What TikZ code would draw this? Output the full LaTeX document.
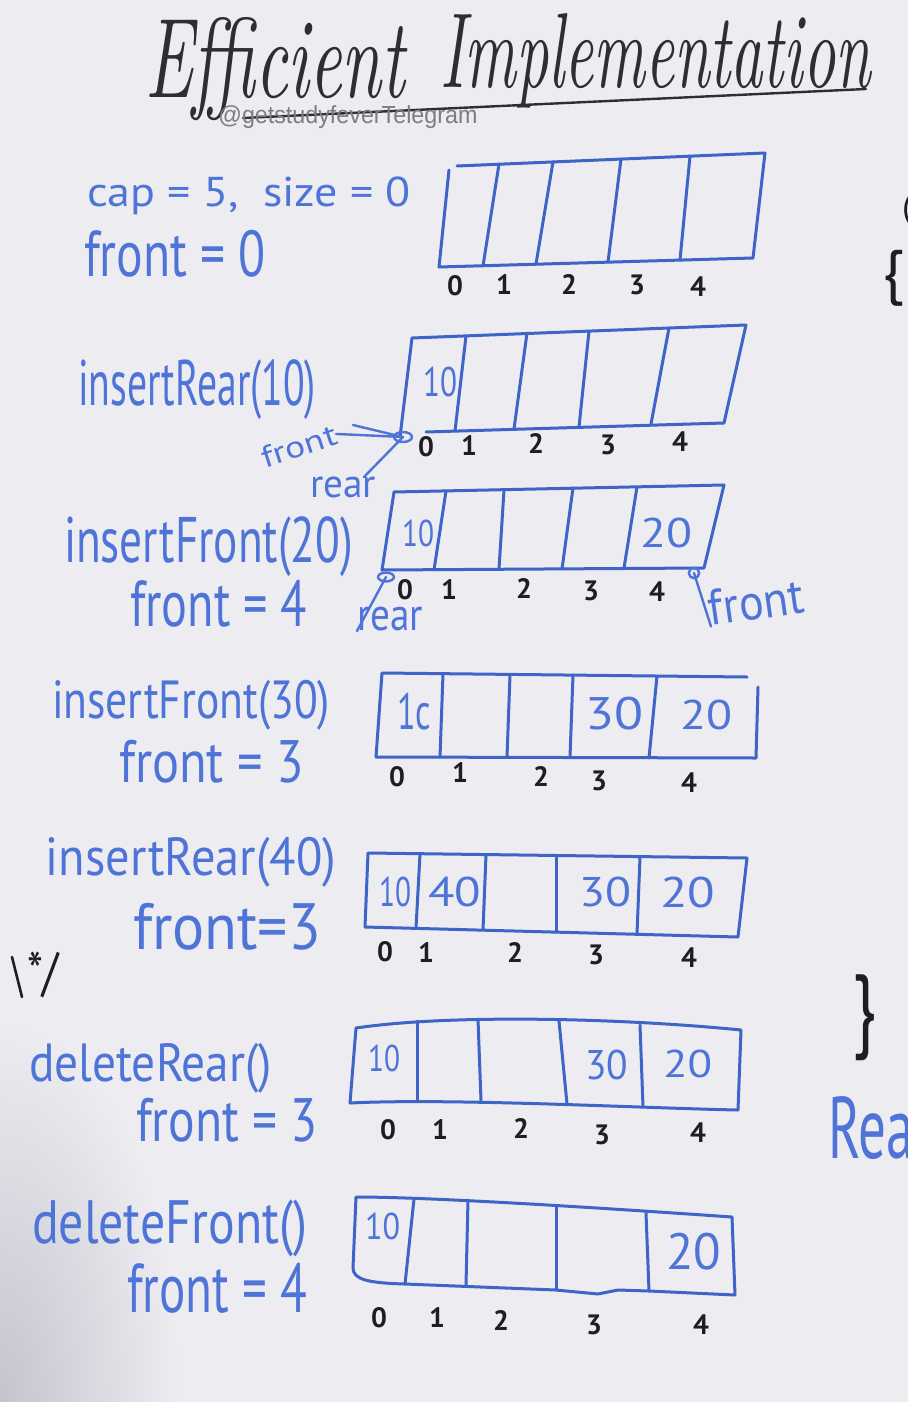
\documentclass[tikz,border=0pt]{standalone}
\usepackage{fontspec}
\newfontfamily\handfont{PT Sans}
\newfontfamily\wmfont{Liberation Sans}
\definecolor{bgc}{RGB}{236,236,241}
\definecolor{shadowc}{RGB}{196,196,206}
\definecolor{hand}{RGB}{78,116,216}
\definecolor{boxblue}{RGB}{62,100,200}
\definecolor{inkblack}{RGB}{30,30,34}
\definecolor{titleink}{RGB}{45,45,50}
\definecolor{wmgray}{RGB}{125,125,132}
\newlength\unitpx
\setlength\unitpx{0.5pt}
\newcommand\fitto[3]{\resizebox*{#1\unitpx}{#2\unitpx}{#3}}
\newcommand\fith[3]{\resizebox{#1\unitpx}{#2\unitpx}{#3}}
\tikzset{
  arr/.style={draw=boxblue, line width=1.5pt, line join=round, line cap=round},
  ink/.style={draw=hand, line width=1.2pt, line cap=round, line join=round},
  blkline/.style={draw=inkblack, line width=1.3pt, line cap=round},
  lbl/.style={inner sep=0pt, outer sep=0pt, text=hand, font=\handfont, anchor=north west},
  sm/.style={inner sep=0pt, outer sep=0pt, text=hand, font=\handfont},
  idx/.style={inner sep=0pt, text=inkblack, font=\handfont\bfseries\fontsize{14}{16}\selectfont},
  blk/.style={inner sep=0pt, outer sep=0pt, text=inkblack, font=\handfont},
  ttl/.style={inner sep=0pt, outer sep=0pt, text=titleink, font=\itshape, anchor=north west},
}
\begin{document}
\begin{tikzpicture}[x=0.5pt,y=-0.5pt]
\useasboundingbox (0,0) rectangle (908,1402);
\fill[bgc] (0,0) rectangle (908,1402);
\shade[inner color=shadowc, outer color=bgc] (0,1402) ellipse [x radius=90pt, y radius=190pt];

% ---------- title ----------
\node[ttl] (t1) at (145,17) {\fith{260}{80}{Efficient}};
\node[ttl] (t2) at (440,13) {\fith{431}{74}{Implementation}};
\draw[draw=titleink, line width=1.2pt, line cap=round] (243,118) -- (866,89);
\node[inner sep=0pt, anchor=north west, text=wmgray, font=\wmfont] (wm) at (218,105) {\fitto{259}{23}{@getstudyfeverTelegram}};

% ---------- edge fragments ----------
\node[blk] (lp) at (907,210) {\fitto{10}{32}{(}};
\node[blk] (lb) at (893,278) {\fitto{22}{56}{\{}};
\node[blk] (rb) at (864,1018) {\fitto{24}{86}{\}}};
\node[lbl, anchor=north west] (rear) at (828,1097) {\fitto{104}{63}{Rear}};
\draw[blkline] (12,957) -- (22,997);
\node[blk, anchor=north west] (cm) at (27,952) {\fitto{32}{46}{*/}};

% ---------- row 1 ----------
\node[lbl] (cap) at (87,177) {\fitto{324}{38}{cap = 5,\ \ size = 0}};
\node[lbl] (fr1) at (84,230) {\fitto{182}{47}{front = 0}};
\draw[arr] (449,170) -- (439,267) -- (753,258) -- (765,153) -- (457,166);
\foreach \xa/\ya/\xb/\yb in {499/164/483/266, 553/162/536/264, 621/159/608/262, 690/156/680/260}
  \draw[arr] (\xa,\ya) -- (\xb,\yb);
\foreach \n/\x/\y in {0/455/286, 1/504/285, 2/569/285, 3/637/285, 4/698/287}
  \node[idx] (i1-\n) at (\x,\y) {\n};

% ---------- row 2 ----------
\node[lbl] (op2) at (78,360) {\fitto{238}{60}{insertRear(10)}};
\draw[arr] (412,338) -- (746,325) -- (724,423) -- (426,432);
\draw[arr] (412,338) -- (400,437);
\foreach \xa/\ya/\xb/\yb in {466/336/455/431, 527/333/514/429, 589/331/579/427, 669/328/651/424}
  \draw[arr] (\xa,\ya) -- (\xb,\yb);
\node[lbl] (v2a) at (423,367) {\fitto{34}{30}{10}};
\foreach \n/\x/\y in {0/426/447, 1/469/446, 2/536/443, 3/608/445, 4/680/442}
  \node[idx] (i2-\n) at (\x,\y) {\n};
\coordinate (c2) at (403,437);
\draw[ink] (c2) ellipse [x radius=4.5pt, y radius=2.5pt];
\node[sm, rotate=18] (f2) at (299,446) {\fitto{78}{22}{front}};
\draw[ink] (f2.east) -- (c2);
\draw[ink] (c2) -- ++(-50,-12);
\node[sm, anchor=north west] (r2) at (310,477) {\fitto{66}{21}{rear}};
\draw[ink] ([xshift=-6pt]r2.north east) -- (c2);

% ---------- row 3 ----------
\node[lbl] (op3) at (64,517) {\fitto{289}{60}{insertFront(20)}};
\node[lbl] (fr3) at (130,580) {\fitto{177}{47}{front = 4}};
\draw[arr] (394,492) -- (724,485) -- (704,568) -- (382,570) -- cycle;
\foreach \xa/\ya/\xb/\yb in {446/491/434/570, 504/490/499/569, 573/488/562/569, 637/487/624/568}
  \draw[arr] (\xa,\ya) -- (\xb,\yb);
\node[lbl] (v3a) at (402,520) {\fitto{32}{27}{10}};
\node[lbl] (v3e) at (640,518) {\fitto{52}{30}{20}};
\foreach \n/\x/\y in {0/405/590, 1/449/590, 2/524/588, 3/591/591, 4/657/592}
  \node[idx] (i3-\n) at (\x,\y) {\n};
\coordinate (c3l) at (386,577);
\draw[ink] (c3l) ellipse [x radius=4pt, y radius=2.2pt];
\node[sm, anchor=north west] (r3) at (357,607) {\fitto{66}{24}{rear}};
\draw[ink] (c3l) -- (r3.south west);
\coordinate (c3r) at (694,573);
\draw[ink] (c3r) circle [radius=2.6pt];
\node[sm, rotate=8] (f3) at (756,602) {\fitto{96}{36}{front}};
\draw[ink] (c3r) -- (f3.south west);

% ---------- row 4 ----------
\node[lbl] (op4) at (52,680) {\fitto{278}{50}{insertFront(30)}};
\node[lbl] (fr4) at (119,740) {\fitto{185}{43}{front = 3}};
\draw[arr] (376,757) -- (382,673) -- (747,677);
\draw[arr] (758,687) -- (756,758) -- (376,757);
\foreach \xa/\ya/\xb/\yb in {443/674/440/757, 510/675/507/757, 573/675/570/757, 657/676/649/758}
  \draw[arr] (\xa,\ya) -- (\xb,\yb);
\node[lbl] (v4a) at (397,693) {\fitto{34}{37}{1c}};
\node[lbl] (v4d) at (585,697) {\fitto{58}{33}{30}};
\node[lbl] (v4e) at (680,700) {\fitto{52}{30}{20}};
\foreach \n/\x/\y in {0/397/777, 1/460/773, 2/541/776, 3/599/781, 4/689/783}
  \node[idx] (i4-\n) at (\x,\y) {\n};

% ---------- row 5 ----------
\node[lbl] (op5) at (46,837) {\fitto{290}{50}{insertRear(40)}};
\node[lbl] (fr5) at (133,903) {\fitto{188}{47}{front=3}};
\draw[arr] (368,853) -- (747,858) -- (738,937) -- (365,927) -- cycle;
\foreach \xa/\ya/\xb/\yb in {420/854/416/928, 486/855/483/930, 556/856/556/932, 640/857/637/934}
  \draw[arr] (\xa,\ya) -- (\xb,\yb);
\node[lbl] (v5a) at (379,877) {\fitto{32}{30}{10}};
\node[lbl] (v5b) at (428,877) {\fitto{53}{30}{40}};
\node[lbl] (v5d) at (579,877) {\fitto{52}{30}{30}};
\node[lbl] (v5e) at (660,877) {\fitto{55}{31}{20}};
\foreach \n/\x/\y in {0/385/952, 1/426/953, 2/515/952, 3/596/955, 4/689/958}
  \node[idx] (i5-\n) at (\x,\y) {\n};

% ---------- row 6 ----------
\node[lbl] (op6) at (29,1043) {\fitto{243}{50}{deleteRear()}};
\node[lbl] (fr6) at (136,1098) {\fitto{182}{44}{front = 3}};
\draw[arr] (356,1028) .. controls (450,1014) and (620,1018) .. (741,1030) -- (738,1110)
  .. controls (640,1108) and (450,1098) .. (350,1103) -- cycle;
\foreach \xa/\ya/\xb/\yb in {417/1021/417/1101, 478/1019/481/1101, 559/1021/567/1104, 640/1025/643/1107}
  \draw[arr] (\xa,\ya) -- (\xb,\yb);
\node[lbl] (v6a) at (368,1045) {\fitto{32}{27}{10}};
\node[lbl] (v6d) at (585,1050) {\fitto{43}{30}{30}};
\node[lbl] (v6e) at (663,1050) {\fitto{49}{28}{20}};
\foreach \n/\x/\y in {0/388/1130, 1/440/1130, 2/521/1128, 3/602/1135, 4/698/1133}
  \node[idx] (i6-\n) at (\x,\y) {\n};

% ---------- row 7 ----------
\node[lbl] (op7) at (32,1200) {\fitto{275}{57}{deleteFront()}};
\node[lbl] (fr7) at (127,1263) {\fitto{180}{50}{front = 4}};
\draw[arr] (356,1197) .. controls (420,1197) and (560,1205) .. (732,1217) -- (735,1295)
  -- (649,1291) -- (618,1290) -- (598,1294) -- (556,1290) -- (405,1284)
  .. controls (370,1283) and (353,1280) .. (353,1268) -- cycle;
\foreach \xa/\ya/\xb/\yb in {414/1199/405/1284, 468/1200/466/1285, 556/1206/556/1290, 646/1213/649/1291}
  \draw[arr] (\xa,\ya) -- (\xb,\yb);
\node[lbl] (v7a) at (365,1213) {\fitto{35}{27}{10}};
\node[lbl] (v7e) at (666,1233) {\fitto{55}{37}{20}};
\foreach \n/\x/\y in {0/379/1318, 1/437/1318, 2/501/1320, 3/594/1325, 4/701/1325}
  \node[idx] (i7-\n) at (\x,\y) {\n};
\end{tikzpicture}
\end{document}
